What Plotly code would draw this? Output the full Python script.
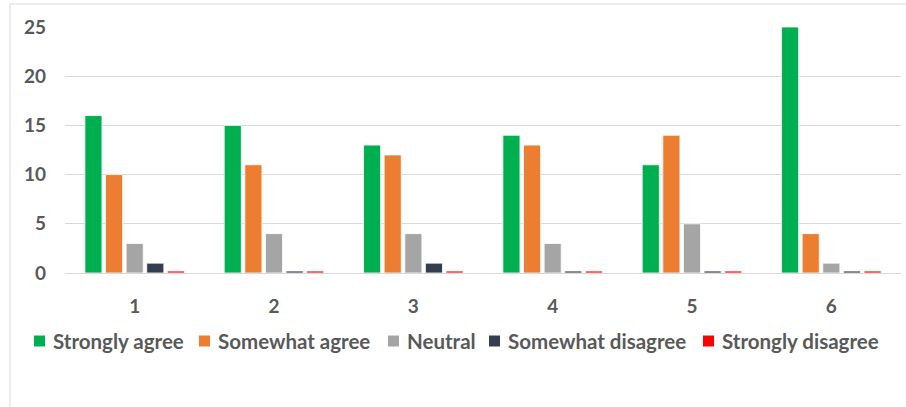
import plotly.graph_objects as go

categories = ["1", "2", "3", "4", "5", "6"]
strongly_agree = [16, 15, 13, 14, 11, 25]
somewhat_agree = [10, 11, 12, 13, 14, 4]
neutral = [3, 4, 4, 3, 5, 1]
somewhat_disagree = [1, 0.2, 1, 0.2, 0.2, 0.2]
strongly_disagree = [0.2, 0.2, 0.2, 0.2, 0.2, 0.2]
y_ticks = [0, 5, 10, 15, 20, 25]

series = [
    ("Strongly agree", strongly_agree, "#00B050"),
    ("Somewhat agree", somewhat_agree, "#ED7D31"),
    ("Neutral", neutral, "#A5A5A5"),
    ("Somewhat disagree", somewhat_disagree, "#333F50"),
    ("Strongly disagree", strongly_disagree, "#FF0000"),
]

font_family = "Lato, Open Sans, sans-serif"
text_color = "#595959"

W, H = 906, 407
ml, mr, mt, mb = 65, 5, 27, 134
pw = W - ml - mr
ph = H - mt - mb


def px_x(px):
    return (px - ml) / pw


def px_y(py):
    return (H - mb - py) / ph


fig = go.Figure()
for name, vals, color in series:
    fig.add_trace(go.Bar(
        x=categories, y=vals, name=name, showlegend=False,
        marker=dict(color=color, line=dict(color="#FFFFFF", width=0.8)),
    ))

# chart frame: left and top edges
shapes = [
    dict(type="line", xref="paper", yref="paper", x0=px_x(10), x1=px_x(10),
         y0=px_y(H + 2), y1=px_y(4), line=dict(color="#D9D9D9", width=1)),
    dict(type="line", xref="paper", yref="paper", x0=px_x(10), x1=px_x(W + 2),
         y0=px_y(4), y1=px_y(4), line=dict(color="#D9D9D9", width=1)),
]
annotations = []

# legend row below the axis: square key + bold label per series
legend_key_left = [34, 199, 388, 489, 703]
legend_y = 341
key_size = 11
for (name, _, color), kx in zip(series, legend_key_left):
    shapes.append(dict(
        type="rect", xref="paper", yref="paper",
        x0=px_x(kx), x1=px_x(kx + key_size),
        y0=px_y(legend_y + key_size / 2), y1=px_y(legend_y - key_size / 2),
        fillcolor=color, line=dict(width=0),
    ))
    annotations.append(dict(
        xref="paper", yref="paper", x=px_x(kx + key_size + 6), y=px_y(legend_y),
        xanchor="left", yanchor="middle", showarrow=False, text=name,
        font=dict(size=20.5, color=text_color, family=font_family, weight="bold"),
    ))

fig.update_layout(
    width=W, height=H,
    margin=dict(l=ml, r=mr, t=mt, b=mb),
    paper_bgcolor="white", plot_bgcolor="white",
    barmode="group", bargap=0.26, bargroupgap=0.17,
    font=dict(family=font_family, color=text_color, size=19),
    showlegend=False,
    shapes=shapes,
    annotations=annotations,
)
fig.update_xaxes(
    showgrid=False, showline=True, linecolor="#D9D9D9", linewidth=1,
    ticks="", ticklabelstandoff=16,
    tickfont=dict(size=19, color=text_color, weight="bold"),
)
fig.update_yaxes(
    range=[0, 25], tickvals=y_ticks, showgrid=True, gridcolor="#D9D9D9",
    gridwidth=1, zeroline=False, showline=False, ticks="",
    ticklabelstandoff=18,
    tickfont=dict(size=19, color=text_color, weight="bold"),
)

fig.write_html("out.html")
